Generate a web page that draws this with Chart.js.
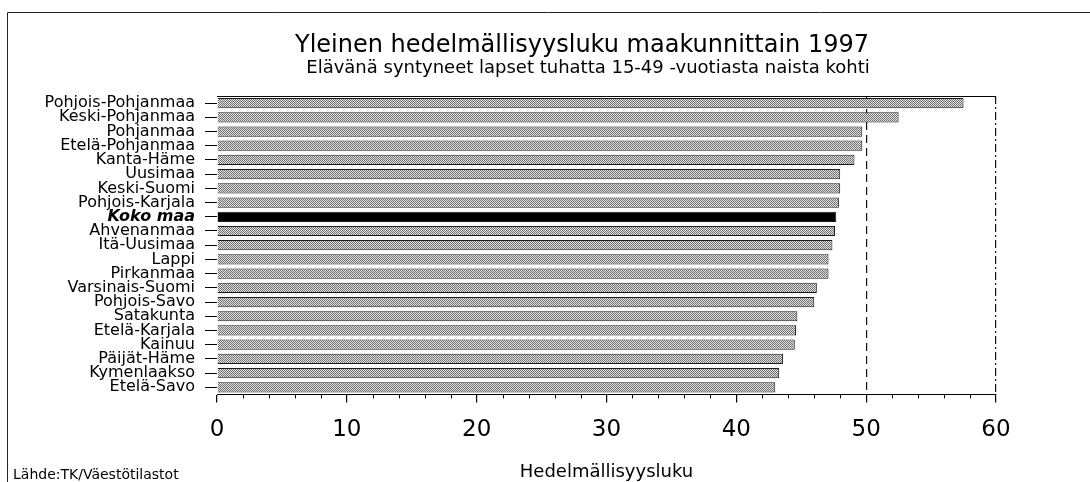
<!DOCTYPE html>
<html>
<head>
<meta charset="utf-8">
<script src="https://cdn.jsdelivr.net/npm/chart.js@4"></script>
<style>
  html, body { margin: 0; padding: 0; background: #fff; }
  #wrap { width: 1090px; height: 482px; }
</style>
</head>
<body>
<div id="wrap"><canvas id="fertChart" width="1090" height="482"></canvas></div>
<script>
'use strict';

// regions, top to bottom as in the original
const regions = ['Pohjois-Pohjanmaa', 'Keski-Pohjanmaa', 'Pohjanmaa', 'Etelä-Pohjanmaa', 'Kanta-Häme',
  'Uusimaa', 'Keski-Suomi', 'Pohjois-Karjala', 'Koko maa', 'Ahvenanmaa', 'Itä-Uusimaa', 'Lappi',
  'Pirkanmaa', 'Varsinais-Suomi', 'Pohjois-Savo', 'Satakunta', 'Etelä-Karjala', 'Kainuu',
  'Päijät-Häme', 'Kymenlaakso', 'Etelä-Savo'];
// live births per 1000 women aged 15-49
const fertility = [57.5, 52.5, 49.7, 49.7, 49.1, 48.0, 48.0, 47.9, 47.7, 47.6, 47.4, 47.1,
  47.1, 46.2, 46.0, 44.7, 44.6, 44.5, 43.6, 43.3, 43.0];
const xTicks = [0, 10, 20, 30, 40, 50, 60];
const wholeCountry = 'Koko maa';

const titleText = 'Yleinen hedelmällisyysluku maakunnittain 1997';
const subtitleText = 'Elävänä syntyneet lapset tuhatta 15-49 -vuotiasta naista kohti';
const axisTitle = 'Hedelmällisyysluku';
const sourceText = 'Lähde:TK/Väestötilastot';

const FONT = "'DejaVu Sans', Verdana, sans-serif";

// grey screen pattern like the printed bars
function makePattern() {
  const c = document.createElement('canvas');
  c.width = 2; c.height = 2;
  const g = c.getContext('2d');
  g.fillStyle = '#e2e2e2';
  g.fillRect(0, 0, 2, 2);
  g.fillStyle = '#707070';
  g.fillRect(0, 0, 1, 1);
  g.fillRect(1, 1, 1, 1);
  return g.createPattern(c, 'repeat');
}
const screen = makePattern();

const kokoIdx = regions.indexOf(wholeCountry);

const paperPlugin = {
  id: 'paper',
  beforeDraw(chart) {
    const ctx = chart.ctx;
    ctx.save();
    ctx.fillStyle = '#fff';
    ctx.fillRect(0, 0, chart.width, chart.height);
    ctx.strokeStyle = '#222';
    ctx.lineWidth = 1;
    ctx.beginPath();
    ctx.moveTo(7.5, chart.height);
    ctx.lineTo(7.5, 12.5);
    ctx.lineTo(chart.width, 12.5);
    ctx.stroke();
    ctx.restore();
  },
  afterDraw(chart) {
    const ctx = chart.ctx;
    const area = chart.chartArea;
    const x = chart.scales.x;
    ctx.save();
    ctx.strokeStyle = '#000';
    ctx.lineWidth = 1;
    // top frame of the plot
    ctx.beginPath();
    ctx.moveTo(area.left, Math.round(area.top) + 0.5);
    ctx.lineTo(area.right, Math.round(area.top) + 0.5);
    ctx.stroke();
    // minor ticks every 2 units
    ctx.beginPath();
    for (let v = 2; v < 60; v += 2) {
      if (v % 10 === 0) continue;
      const px = Math.round(x.getPixelForValue(v)) + 0.5;
      ctx.moveTo(px, x.top);
      ctx.lineTo(px, x.top + 4);
    }
    ctx.stroke();
    // titles and bottom texts
    ctx.fillStyle = '#000';
    ctx.textBaseline = 'alphabetic';
    ctx.textAlign = 'center';
    ctx.font = '24px ' + FONT;
    ctx.fillText(titleText, 582, 52);
    ctx.font = '18px ' + FONT;
    ctx.fillText(subtitleText, 588, 73);
    ctx.font = '18px ' + FONT;
    ctx.fillText(axisTitle, (area.left + area.right) / 2, 477);
    ctx.font = '14px ' + FONT;
    ctx.textAlign = 'left';
    ctx.fillText(sourceText, 13, 479);
    ctx.restore();
  }
};

new Chart(document.getElementById('fertChart'), {
  type: 'bar',
  data: {
    labels: regions,
    datasets: [{
      data: fertility,
      backgroundColor: regions.map(r => r === wholeCountry ? '#000' : screen),
      borderColor: '#1a1a1a',
      borderWidth: 1,
      barPercentage: 0.72,
      categoryPercentage: 1
    }]
  },
  options: {
    indexAxis: 'y',
    responsive: false,
    animation: false,
    events: [],
    layout: { padding: { left: 0, right: 94, top: 96, bottom: 24 } },
    font: { family: FONT },
    color: '#000',
    plugins: {
      legend: { display: false },
      tooltip: { enabled: false },
      title: { display: false }
    },
    scales: {
      x: {
        min: 0,
        max: 60,
        afterBuildTicks: scale => { scale.ticks = xTicks.map(v => ({ value: v })); },
        ticks: { color: '#000', font: { family: FONT, size: 23 }, padding: 14, maxRotation: 0 },
        grid: {
          color: c => (c.tick && c.tick.value >= 50) ? '#111' : 'rgba(0,0,0,0)',
          tickColor: '#000',
          tickLength: 8,
          lineWidth: 1.2
        },
        border: {
          display: true,
          color: '#000',
          width: 1,
          dash: c => (c.tick && c.tick.value === 60) ? [8, 3, 2, 3] : [8, 5]
        }
      },
      y: {
        afterFit: scale => { scale.width = 217; },
        ticks: {
          color: '#000',
          padding: 10,
          autoSkip: false,
          font: c => c.index === kokoIdx
            ? { family: FONT, size: 16, weight: 'bold', style: 'italic' }
            : { family: FONT, size: 16 }
        },
        grid: {
          offset: false,
          drawOnChartArea: false,
          tickColor: '#000',
          tickLength: 12
        },
        border: { display: false }
      }
    }
  },
  plugins: [paperPlugin]
});
</script>
</body>
</html>
